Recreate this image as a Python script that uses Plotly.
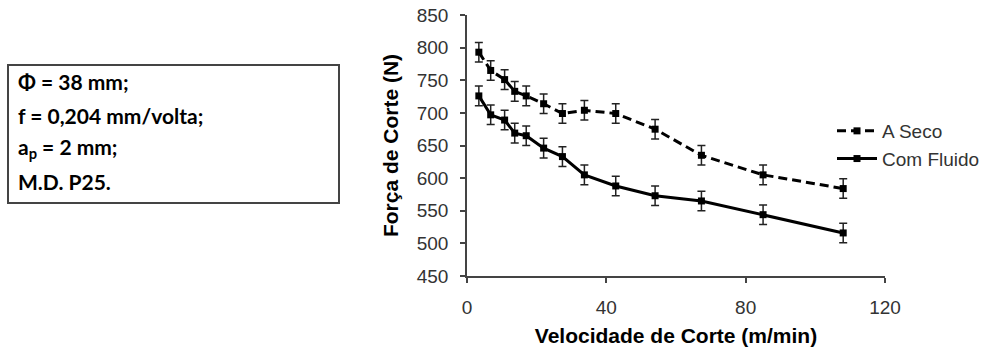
import plotly.graph_objects as go

# Cutting speed (m/min) and cutting force (N) for both conditions
velocidade = [3.4, 6.8, 10.8, 13.7, 17.0, 22.0, 27.4, 33.7, 42.7, 54.0, 67.3, 85.0, 108.0]
forca_seco = [793, 765, 751, 733, 726, 714, 699, 704, 699, 675, 635, 605, 584]
forca_fluido = [726, 697, 689, 669, 665, 646, 633, 605, 588, 573, 565, 544, 516]
erro_seco = [15] * len(velocidade)
erro_fluido = [15] * len(velocidade)

x_ticks = [0, 40, 80, 120]
y_ticks = [450, 500, 550, 600, 650, 700, 750, 800, 850]

condicoes = ["Φ = 38 mm;", "f = 0,204 mm/volta;", "a<sub>p</sub> = 2 mm;", "M.D. P25."]

fig = go.Figure()

fig.add_trace(go.Scatter(
    x=velocidade, y=forca_seco, name="A Seco", mode="lines+markers",
    line=dict(color="black", width=3, dash="9px,5px"),
    marker=dict(symbol="square", size=7, color="black"),
    error_y=dict(type="data", array=erro_seco, color="#222", thickness=1.5, width=4),
))
fig.add_trace(go.Scatter(
    x=velocidade, y=forca_fluido, name="Com Fluido", mode="lines+markers",
    line=dict(color="black", width=3),
    marker=dict(symbol="square", size=7, color="black"),
    error_y=dict(type="data", array=erro_fluido, color="#222", thickness=1.5, width=4),
))

L, R, T, B = 467, 103, 15, 73
W, H = 988, 349
pw, ph = W - L - R, H - T - B


def px_x(p):
    return (p - L) / pw


def px_y(p):
    return (H - B - p) / ph


# Box listing the machining conditions
fig.add_shape(type="rect", xref="paper", yref="paper",
              x0=px_x(8), x1=px_x(339), y0=px_y(203), y1=px_y(65),
              line=dict(color="#444", width=2), fillcolor="white")
for i, txt in enumerate(condicoes):
    fig.add_annotation(xref="paper", yref="paper", x=px_x(16), y=px_y(82 + 33 * i),
                       text="<b>" + txt + "</b>", showarrow=False, xanchor="left",
                       yanchor="middle",
                       font=dict(family="Lato", size=21, color="black"))

axis_common = dict(showline=True, linecolor="#444", linewidth=1.5, ticks="outside",
                   tickcolor="#444", ticklen=5, tickwidth=1.5, showgrid=False,
                   zeroline=False, ticklabelstandoff=8, automargin=False,
                   tickfont=dict(family="Liberation Sans", size=19, color="#333"))

fig.update_xaxes(range=[0, 120], tickvals=x_ticks, **axis_common,
                 title=dict(text="<b>Velocidade de Corte (m/min)</b>", standoff=12,
                            font=dict(family="Liberation Sans", size=21, color="black")))
fig.update_yaxes(range=[450, 850], tickvals=y_ticks, **axis_common,
                 title=dict(text="<b>Força de Corte (N)</b>", standoff=12,
                            font=dict(family="Liberation Sans", size=21, color="black")))

fig.update_layout(
    width=W, height=H, margin=dict(l=L, r=R, t=T, b=B, autoexpand=False),
    plot_bgcolor="white", paper_bgcolor="white",
    legend=dict(x=px_x(832), y=px_y(112), xanchor="left", yanchor="top",
                font=dict(family="Liberation Sans", size=19, color="#333"),
                bgcolor="rgba(0,0,0,0)", tracegroupgap=0, itemwidth=40),
)

fig.write_html("out.html")
